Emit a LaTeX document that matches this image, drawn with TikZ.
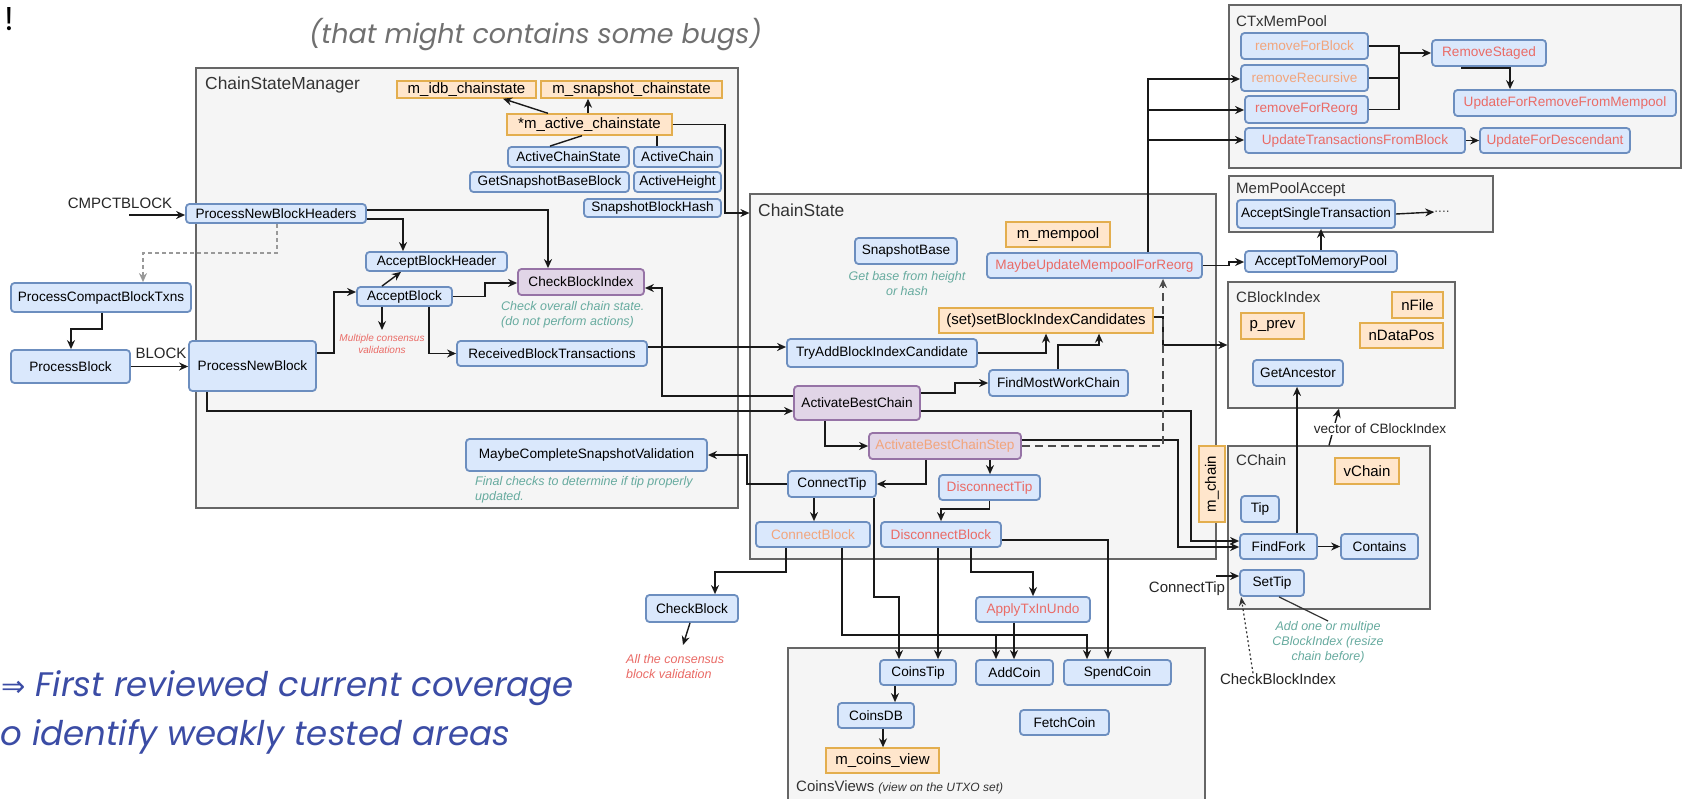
\documentclass[tikz,border=0pt]{standalone}
\usepackage{fontspec}
\setmainfont{Liberation Sans}
\newfontfamily\gothic{Poppins}
\newfontfamily\dejavu{DejaVu Sans}
\usetikzlibrary{arrows.meta}

\definecolor{blueF}{HTML}{DAE8FC}
\definecolor{blueD}{HTML}{6C8EBF}
\definecolor{orF}{HTML}{FFE6CC}
\definecolor{orD}{HTML}{E3AE4E}
\definecolor{puF}{HTML}{E1D5E7}
\definecolor{puD}{HTML}{9673A6}
\definecolor{grpF}{HTML}{F5F5F5}
\definecolor{grpD}{HTML}{666666}
\definecolor{redT}{HTML}{EA6B66}
\definecolor{oraT}{HTML}{F2A57C}
\definecolor{greenT}{HTML}{67AB9F}
\definecolor{titleC}{HTML}{333333}
\definecolor{slideBlue}{HTML}{3B4CA5}
\definecolor{slideGray}{HTML}{707070}

\newcommand\nodefont{\fontsize{13.6}{15}\selectfont}
\newcommand\orfont{\fontsize{15}{17}\selectfont}
\newcommand\lblfont{\fontsize{15}{17}\selectfont}
\newcommand\ttlfont{\fontsize{15}{17}\selectfont}
\newcommand\bigttlfont{\fontsize{17.4}{20}\selectfont}
\newcommand\notefont{\fontsize{12.5}{15}\selectfont\itshape}
\newcommand\smallnotefont{\fontsize{10}{12}\selectfont\itshape}
\newcommand\slidefont{\gothic\fontsize{34}{38}\selectfont\itshape}

% box from its corners: style, name, x1, y1, x2, y2
\newcommand\nb[6]{\node[#1,minimum width={(#5)-(#3)},minimum height={(#6)-(#4)}] (#2) at ({((#3)+(#5))/2},{((#4)+(#6))/2})}

\begin{document}
\begin{tikzpicture}[x=1pt,y=-1pt,
  grp/.style={draw=grpD, fill=grpF, line width=1.2pt, inner sep=0pt},
  bx/.style={draw=blueD, fill=blueF, line width=1.8pt, rounded corners=3.5pt, inner sep=0pt, font=\nodefont, text=black},
  pu/.style={draw=puD, fill=puF, line width=1.8pt, rounded corners=3.5pt, inner sep=0pt, font=\nodefont, text=black},
  orn/.style={draw=orD, fill=orF, line width=1.4pt, inner sep=0pt, font=\orfont, text=black},
  ttl/.style={anchor=west, inner sep=0pt, text=titleC, font=\ttlfont},
  bigttl/.style={anchor=west, inner sep=0pt, text=titleC, font=\bigttlfont},
  note/.style={inner sep=0pt, text=greenT, font=\notefont, align=center},
  lbl/.style={inner sep=0pt, text=black!85, font=\lblfont},
  ln/.style={line width=1.4pt, draw=black!90},
  arr/.style={ln, -{Stealth[length=9pt,width=8pt]}},
  dasharr/.style={line width=1.4pt, draw=black!70, dash pattern=on 8pt off 5pt, -{Stealth[length=9pt,width=8pt]}},
  grayarr/.style={line width=1.3pt, draw=black!40, dash pattern=on 4pt off 3pt, -{Stealth[length=9pt,width=8pt,fill=black!45]}},
  dotarr/.style={line width=1.2pt, draw=black!80, dash pattern=on 2pt off 2.5pt, -{Stealth[length=9pt,width=7pt]}}
]
\useasboundingbox (0,0) rectangle (1685,798);
\clip (0,0) rectangle (1685,798);
\fill[white] (0,0) rectangle (1685,798);

% ---------- slide text ----------
\node[inner sep=0pt, font=\gothic\fontsize{33}{36}\selectfont] (excl) at (9,19) {!};
\node[anchor=west, inner sep=0pt, text=slideGray, font=\gothic\fontsize{27}{30}\selectfont\itshape] (bugs) at (309,35) {(that might contains some bugs)};
\node[anchor=base west, inner sep=0pt, text=slideBlue, font=\slidefont] (line1) at (1,696) {{\dejavu\upshape\fontsize{29}{34}\selectfont ⇒} First reviewed current coverage};
\node[anchor=base west, inner sep=0pt, text=slideBlue, font=\slidefont] (line2) at (0,745) {o identify weakly tested areas};

% ---------- containers ----------
\nb{grp}{CSM}{196}{68}{738}{508} {};
\nb{grp}{CS}{750}{194}{1216}{559} {};
\nb{grp}{CV}{788}{648}{1205}{820} {};
\nb{grp}{MP}{1229}{5}{1681}{168} {};
\nb{grp}{MPA}{1229}{176}{1493}{232} {};
\nb{grp}{CBIX}{1228}{282}{1455}{408} {};
\nb{grp}{CCH}{1228}{446}{1430}{609} {};

\node[bigttl] (tCSM) at (205,85) {ChainStateManager};
\node[bigttl] (tCS) at (758,210) {ChainState};
\node[ttl] (tMP) at (1236,21) {CTxMemPool};
\node[ttl] (tMPA) at (1236,190) {MemPoolAccept};
\node[ttl] (tCBIX) at (1236,297) {CBlockIndex};
\node[ttl] (tCCH) at (1236,460) {CChain};
\node[anchor=west, inner sep=0pt, text=titleC, font=\lblfont] (tCV) at (796,787) {CoinsViews {\fontsize{12}{14}\selectfont\itshape (view on the UTXO set)}};

% ---------- ChainStateManager ----------
\nb{orn}{idb}{397}{81}{536}{98} {m\_idb\_chainstate};
\nb{orn}{snap}{541}{81}{722}{98} {m\_snapshot\_chainstate};
\nb{orn}{active}{507}{114}{672}{135} {*m\_active\_chainstate};
\nb{bx}{acs}{508}{147}{629}{167} {ActiveChainState};
\nb{bx}{ac}{634}{147}{721}{167} {ActiveChain};
\nb{bx}{gsbb}{470}{172}{629}{192} {GetSnapshotBaseBlock};
\nb{bx}{ah}{634}{172}{721}{192} {ActiveHeight};
\nb{bx}{sbh}{584}{199}{721}{217} {SnapshotBlockHash};
\nb{bx}{pnbh}{186}{204}{366}{223} {ProcessNewBlockHeaders};
\nb{bx}{abh}{366}{252}{507}{271} {AcceptBlockHeader};
\nb{bx}{ab}{357}{287}{452}{306} {AcceptBlock};
\nb{pu}{cbi}{518}{269}{644}{295} {CheckBlockIndex};
\nb{bx}{rbt}{457}{341}{647}{366} {ReceivedBlockTransactions};
\nb{bx}{pnb}{189}{341}{316}{391} {ProcessNewBlock};
\nb{bx}{mcsv}{466}{439}{707}{471} {MaybeCompleteSnapshotValidation};
\nb{bx}{pcbt}{11}{283}{191}{312} {ProcessCompactBlockTxns};
\nb{bx}{pb}{11}{350}{130}{383} {ProcessBlock};

\node[note, anchor=west, align=left] (nCBI) at (501,315) {Check overall chain state.\\(do not perform actions)};
\node[inner sep=0pt, text=redT, font=\smallnotefont, align=center] (nAB) at (382,344) {Multiple consensus\\validations};
\node[note, anchor=west, align=left] (nMCSV) at (475,489.5) {Final checks to determine if tip properly\\updated.};

% ---------- ChainState ----------
\nb{bx}{sb}{855}{238}{957}{264} {SnapshotBase};
\node[note] (nSB) at (907,283.5) {Get base from height\\or hash};
\nb{orn}{mem}{1006}{222}{1110}{247} {m\_mempool};
\nb{bx,text=redT}{mumfr}{987}{253}{1202}{278} {MaybeUpdateMempoolForReorg};
\nb{orn}{set}{939}{308}{1153}{333} {(set)setBlockIndexCandidates};
\nb{bx}{tabic}{787}{339}{977}{367} {TryAddBlockIndexCandidate};
\nb{bx}{fmwc}{989}{370}{1128}{396} {FindMostWorkChain};
\nb{pu}{abc}{794}{386}{920}{420} {ActivateBestChain};
\nb{pu,text=oraT}{abcs}{869}{433}{1021}{459} {ActivateBestChainStep};
\nb{bx}{ct}{788}{471}{876}{497} {ConnectTip};
\nb{bx,text=redT}{dt}{939}{475}{1040}{500} {DisconnectTip};
\nb{bx,text=oraT}{cb}{756}{522}{870}{547} {ConnectBlock};
\nb{bx,text=redT}{db}{881}{522}{1001}{547} {DisconnectBlock};

% ---------- below ChainState ----------
\nb{bx}{chk}{646}{595}{738}{622} {CheckBlock};
\node[note, text=redT, anchor=west, align=left] (nCHK) at (626,667) {All the consensus\\block validation};
\nb{bx,text=redT}{atiu}{976}{597}{1090}{622} {ApplyTxInUndo};

% ---------- CoinsViews ----------
\nb{bx}{ctip}{880}{660}{956}{685} {CoinsTip};
\nb{bx}{add}{976}{660}{1053}{685} {AddCoin};
\nb{bx}{spend}{1064}{660}{1171}{685} {SpendCoin};
\nb{bx}{cdb}{838}{703}{914}{728} {CoinsDB};
\nb{bx}{fetch}{1020}{710}{1109}{735} {FetchCoin};
\nb{orn}{mcv}{826}{748}{939}{773} {m\_coins\_view};

% ---------- CTxMemPool ----------
\nb{bx,text=oraT}{rfb}{1241}{33}{1368}{59} {removeForBlock};
\nb{bx,text=oraT}{rr}{1241}{65}{1368}{91} {removeRecursive};
\nb{bx,text=redT}{rfr}{1245}{96}{1368}{123} {removeForReorg};
\nb{bx,text=redT}{utfb}{1245}{128}{1465}{153} {UpdateTransactionsFromBlock};
\nb{bx,text=redT}{rs}{1432}{40}{1546}{66} {RemoveStaged};
\nb{bx,text=redT}{ufrfm}{1454}{90}{1676}{116} {UpdateForRemoveFromMempool};
\nb{bx,text=redT}{ufd}{1480}{128}{1630}{153} {UpdateForDescendant};

% ---------- MemPoolAccept ----------
\nb{bx}{ast}{1237}{200}{1395}{228} {AcceptSingleTransaction};
\node[inner sep=0pt, text=black!70, font=\nodefont] (dots) at (1442,212) {....};
\nb{bx}{atmp}{1245}{251}{1397}{272} {AcceptToMemoryPool};

% ---------- CBlockIndex ----------
\nb{orn}{pprev}{1241}{313}{1304}{339} {p\_prev};
\nb{orn}{nfile}{1392}{292}{1443}{318} {nFile};
\nb{orn}{ndp}{1360}{323}{1443}{348} {nDataPos};
\nb{bx}{ga}{1253}{360}{1343}{386} {GetAncestor};

% ---------- CChain ----------
\nb{orn}{vchain}{1335}{458}{1399}{484} {vChain};
\node[orn, rotate=90, minimum width=76, minimum height=26] (mchain) at (1212,484) {m\_chain};
\nb{bx}{tip}{1241}{496}{1279}{522} {Tip};
\nb{bx}{ff}{1240}{534}{1317}{559} {FindFork};
\nb{bx}{cont}{1341}{534}{1418}{559} {Contains};
\nb{bx}{settip}{1240}{570}{1304}{596} {SetTip};
\node[note] (nST) at (1328,642) {Add one or multipe\\CBlockIndex (resize\\chain before)};

% ---------- free labels ----------
\node[lbl] (lCMP) at (120,203) {CMPCTBLOCK};
\node[lbl] (lBLK) at (161,353) {BLOCK};
\node[lbl] (lCT) at (1187,589) {ConnectTip};
\node[lbl] (lCBI) at (1278,679) {CheckBlockIndex};
\coordinate (cmpIn) at (129,215);
\coordinate (ctIn) at (1216,576);
\coordinate (abOut) at (382,330);
\coordinate (chkOut) at (683,645);

% ---------- connectors: ChainStateManager ----------
\draw[arr] (active.north -| 548,0) -- (idb.south -| 503,0);
\draw[arr] (active.north -| 588,0) -- (snap.south -| 588,0);
\draw[ln] (active.south -| 582,0) -- (acs.north -| 550,0);
\draw[ln] (active.south -| 657,0) -- (ac.north -| 657,0);
\draw[arr] (active.east) -| (725,213) -- (CS.west |- 725,213);
\draw[arr] (cmpIn) -- (pnbh.west |- cmpIn);
\draw[arr] (pnbh.east |- 0,219) -| (abh.north -| 403,0);
\draw[arr] (pnbh.east |- 0,210) -| (cbi.north -| 548,0);
\draw[grayarr] (pnbh.south -| 277,0) |- (143,253) -- (pcbt.north -| 143,0);
\draw[arr] (pcbt.south -| 102,0) |- (71,329) -- (pb.north -| 71,0);
\draw[arr] (pb.east) -- (pnb.west |- pb.east);
\draw[arr] (pnb.east |- 0,353) -| (334,292) -- (ab.west |- 0,292);
\draw[arr] (ab.north -| 382,0) -- (abh.south -| 401,0);
\draw[arr] (ab.south -| 382,0) -- (abOut);
\draw[arr] (ab.south -| 429,0) |- (rbt.west);
\draw[arr] (ab.east) -| (485,283) -- (cbi.west |- 0,283);
\draw[arr] (abc.west |- 0,396) -| (662,288) -- (cbi.east |- 0,288);
\draw[arr] (rbt.east |- 0,347) -- (tabic.west |- 0,347);
\draw[arr] (pnb.south -| 207,0) |- (abc.west |- 0,411);

% ---------- connectors: ChainState ----------
\draw[arr] (tabic.east) -| (set.south);
\draw[arr] (fmwc.north -| 1058,0) |- (1099,345) -- (set.south -| 1099,0);
\draw[arr] (set.east |- 0,317) -| (1163,345) -- (CBIX.west |- 0,345);
\draw[arr] (abc.east |- 0,393) -| (955,383) -- (fmwc.west);
\draw[arr] (abc.south -| 825,0) |- (abcs.west);
\draw[arr] (abc.east |- 0,411) -| (1191,541) -- (ff.west |- 0,541);
\draw[arr] (abcs.east |- 0,440) -| (1178,547) -- (ff.west |- 0,547);
\draw[dasharr] (abcs.east |- 0,446) -| (mumfr.south -| 1163,0);
\draw[arr] (abcs.south -| 926,0) |- (ct.east);
\draw[arr] (abcs.south -| 990,0) -- (dt.north -| 990,0);
\draw[arr] (ct.west) -| (747,455) -- (mcsv.east);
\draw[arr] (ct.south -| 814,0) -- (cb.north -| 814,0);
\draw[arr] (dt.south) |- (941,509) -- (db.north);
\draw[arr] (cb.south -| 786,0) |- (715,572) -- (chk.north -| 715,0);
\draw[arr] (chk.south -| 690,0) -- (chkOut);
\draw[arr] (cb.south -| 842,0) |- (1087,635) -- (spend.north -| 1087,0);
\draw[arr] (996,635) -- (add.north -| 996,0);
\draw[arr] (ct.south -| 874,0) |- (899,597) -- (ctip.north -| 899,0);
\draw[arr] (db.south -| 938,0) -- (ctip.north -| 938,0);
\draw[arr] (db.south -| 971,0) |- (1033,572) -- (atiu.north -| 1033,0);
\draw[arr] (atiu.south -| 1014,0) -- (add.north -| 1014,0);
\draw[arr] (db.east |- 0,540) -| (spend.north -| 1108,0);
\draw[arr] (ctip.south -| 895,0) -- (cdb.north -| 895,0);
\draw[arr] (cdb.south -| 883,0) -- (mcv.north -| 883,0);

% ---------- connectors: mempool ----------
\draw[arr] (mumfr.east) -| (1229,262) -- (atmp.west |- 0,262);
\draw[arr] (mumfr.north -| 1148,0) |- (rr.west |- 0,79);
\draw[arr] (1148,110) -- (rfr.west |- 0,110);
\draw[arr] (1148,140) -- (utfb.west |- 0,140);
\draw[ln] (rfb.east) -| (1399,109.5);
\draw[ln] (rr.east) -- (rr.east -| 1399,0);
\draw[ln] (rfr.east) -- (rfr.east -| 1399,0);
\draw[arr] (1399,53) -- (rs.west |- 0,53);
\draw[arr] (rs.south -| 1462,0) |- (1510,68) -- (ufrfm.north -| 1510,0);
\draw[arr] (utfb.east) -- (ufd.west);
\draw[arr] (ast.east) -- (dots.west);
\draw[arr] (atmp.north -| 1321,0) -- (ast.south -| 1321,0);

% ---------- connectors: CBlockIndex / CChain ----------
\draw[arr] (ff.north -| 1297,0) -- (ga.south -| 1297,0);
\draw[arr] (ff.east) -- (cont.west);
\draw[arr] (CCH.north -| 1329,0) -- (CBIX.south -| 1339,0);
\node[fill=white, inner sep=1pt, text=black!85, font=\nodefont] (lVec) at (1380,429) {vector of CBlockIndex};
\draw[arr] (ctIn) -- (settip.west |- ctIn);
\draw[dotarr] (lCBI.north -| 1253,0) -- ([xshift=2pt]settip.south west);
\draw[line width=1.2pt, draw=black!80] (settip.south -| 1279,0) -- (nST.north -| 1328,0);
\end{tikzpicture}
\end{document}
